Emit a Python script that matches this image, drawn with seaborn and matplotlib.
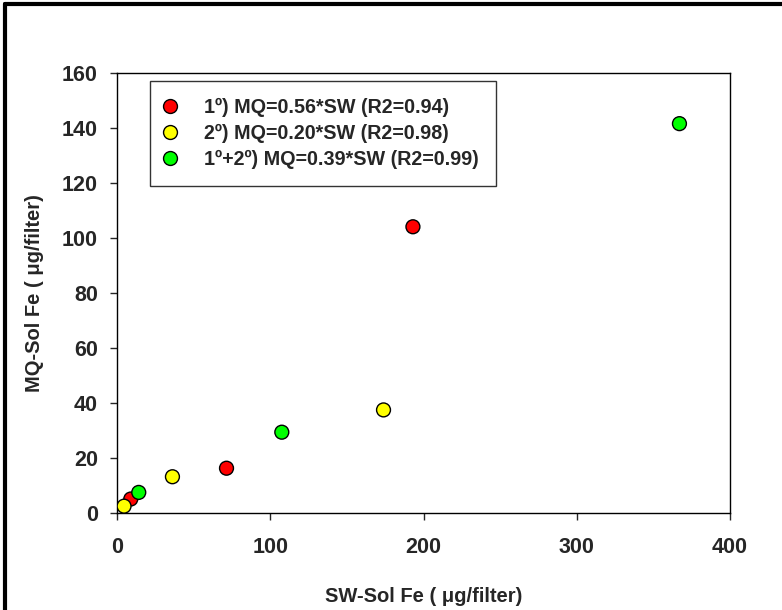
import numpy as np
import pandas as pd
import matplotlib
matplotlib.use("Agg")
import matplotlib.pyplot as plt
import seaborn as sns
from matplotlib.lines import Line2D

# -----------------------------
# Data
# -----------------------------
sw_1 = [8.8, 71.3, 193.0]
mq_1 = [5.2, 16.4, 104.2]

sw_2 = [4.4, 36.0, 173.8]
mq_2 = [2.6, 13.3, 37.6]

sw_12 = [14.0, 107.4, 367.0]
mq_12 = [7.6, 29.5, 141.7]

labels = ["1º) MQ=0.56*SW (R2=0.94)",
          "2º) MQ=0.20*SW (R2=0.98)",
          "1º+2º) MQ=0.39*SW (R2=0.99)"]
colors = ["#ff0000", "#ffff00", "#00ff00"]

df = pd.DataFrame({
    "SW": sw_1 + sw_2 + sw_12,
    "MQ": mq_1 + mq_2 + mq_12,
    "group": [labels[0]] * len(sw_1) + [labels[1]] * len(sw_2) + [labels[2]] * len(sw_12),
})

# -----------------------------
# Plot
# -----------------------------
sns.set_style("ticks")
plt.rcParams["font.family"] = ["Liberation Sans", "DejaVu Sans"]
plt.rcParams["font.weight"] = "bold"

fig = plt.figure(figsize=(7.82, 6.10), dpi=100)
ax = fig.add_axes([0.150, 0.1585, 0.7835, 0.7213])

sns.scatterplot(data=df, x="SW", y="MQ", hue="group", hue_order=labels,
                palette=dict(zip(labels, colors)), s=100,
                edgecolor="black", linewidth=1, legend=False, ax=ax, zorder=3)

ax.set_xlim(0, 400)
ax.set_ylim(0, 160)
ax.set_xticks([0, 100, 200, 300, 400])
ax.set_yticks(np.arange(0, 161, 20))
ax.tick_params(direction="out", length=5, width=1, labelsize=15.5)
ax.tick_params(axis="x", pad=12)
ax.tick_params(axis="y", pad=9)
for lab in ax.get_xticklabels() + ax.get_yticklabels():
    lab.set_fontweight("bold")
for sp in ax.spines.values():
    sp.set_visible(True)
    sp.set_linewidth(1)
    sp.set_color("black")

ax.set_xlabel("SW-Sol Fe ( μg/filter)", fontsize=14.5, fontweight="bold", labelpad=21)
ax.set_ylabel("MQ-Sol Fe ( μg/filter)", fontsize=14.5, fontweight="bold", labelpad=13)

handles = [Line2D([], [], marker="o", linestyle="none", markersize=10,
                  markerfacecolor=c, markeredgecolor="black", markeredgewidth=1)
           for c in colors]
leg = ax.legend(handles, labels, loc="upper left", bbox_to_anchor=(0.053, 0.9825),
                borderaxespad=0, frameon=True, fancybox=False, edgecolor="black",
                prop={"weight": "bold", "size": 14.2}, handlelength=0.4,
                handletextpad=1.5, borderpad=0.85, labelspacing=0.36)
leg.get_frame().set_linewidth(1)

# thick frame on left and top edges of the figure
fig.add_artist(Line2D([0.007, 0.007], [0, 0.993], color="black", lw=3,
                      transform=fig.transFigure))
fig.add_artist(Line2D([0.007, 1.0], [0.993, 0.993], color="black", lw=3,
                      transform=fig.transFigure))

fig.savefig("out.png", dpi=100)
